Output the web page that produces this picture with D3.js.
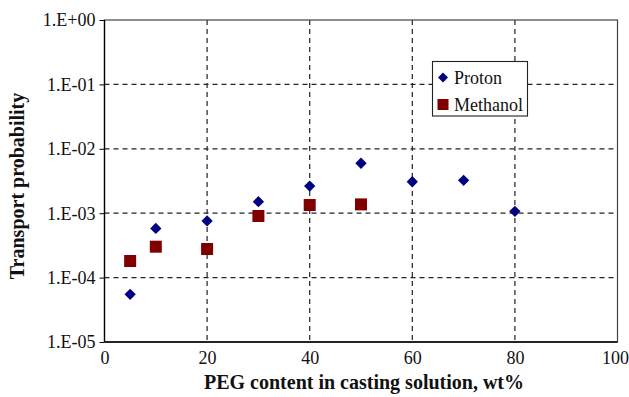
<!DOCTYPE html>
<html><head><meta charset="utf-8">
<script src="https://cdn.jsdelivr.net/npm/d3@7"></script>
<style>body{margin:0;background:#fff}svg{display:block}</style>
</head><body>
<svg id="c" width="629" height="397"></svg>
<script>
const protonX = [5,10,20,30,40,50,60,70,80];
const protonY = [5.5e-5,5.8e-4,7.6e-4,1.51e-3,2.64e-3,5.96e-3,3.08e-3,3.24e-3,1.07e-3];
const methanolX = [5,10,20,30,40,50];
const methanolY = [1.81e-4,3.02e-4,2.78e-4,9.05e-4,1.34e-3,1.37e-3];
const xTicks = [0,20,40,60,80,100];
const yTicks = [1e-5,1e-4,1e-3,1e-2,1e-1,1];
const yTickLabels = ["1.E-05","1.E-04","1.E-03","1.E-02","1.E-01","1.E+00"];

const svg = d3.select("#c");
const F = "Liberation Serif";
const L=104.5,R=617.5,T=20,B=342;
const x = d3.scaleLinear().domain([0,100]).range([L,R]);
const y = d3.scaleLog().domain([1e-5,1]).range([B,T]);

// grid
svg.append("g").selectAll("line").data(xTicks.slice(1,-1)).join("line")
  .attr("x1",d=>x(d)).attr("x2",d=>x(d)).attr("y1",T).attr("y2",B)
  .attr("stroke","#222").attr("stroke-width",1.2).attr("stroke-dasharray","5,4");
svg.append("g").selectAll("line").data(yTicks.slice(1,-1)).join("line")
  .attr("y1",d=>y(d)).attr("y2",d=>y(d)).attr("x1",L).attr("x2",R)
  .attr("stroke","#222").attr("stroke-width",1.2).attr("stroke-dasharray","5,4");

// frame
svg.append("rect").attr("x",L).attr("y",T).attr("width",R-L).attr("height",B-T)
  .attr("fill","none").attr("stroke","#444").attr("stroke-width",1.2);
svg.append("line").attr("x1",L).attr("x2",L).attr("y1",T).attr("y2",B).attr("stroke","#000").attr("stroke-width",1.3);
svg.append("line").attr("x1",L).attr("x2",R).attr("y1",B).attr("y2",B).attr("stroke","#000").attr("stroke-width",1.3);

// axes
const yAxis = d3.axisLeft(y).tickValues(yTicks).tickSize(5).tickFormat((d,i)=>yTickLabels[i]);
const ga = svg.append("g").attr("transform",`translate(${L},0)`).call(yAxis);
ga.attr("font-family",F);
ga.select(".domain").remove();
ga.selectAll("text").attr("font-family",F).attr("font-size",18).attr("fill","#111").attr("x",-9).attr("dy","0.33em");
ga.selectAll("line").attr("stroke","#000");

const xAxis = d3.axisBottom(x).tickValues(xTicks).tickSize(0).tickFormat(d3.format("d"));
const gx = svg.append("g").attr("transform",`translate(0,${B})`).call(xAxis);
gx.attr("font-family",F);
gx.select(".domain").remove();
gx.selectAll("text").attr("font-family",F).attr("font-size",18).attr("fill","#111").attr("y",9).attr("dy","0.71em")
  .attr("text-anchor",d=>d===100?"end":"middle").attr("x",d=>d===100?11:0);

// titles
svg.append("text").attr("x",(L+R)/2+3).attr("y",389).attr("text-anchor","middle")
  .attr("font-family",F).attr("font-weight","bold").attr("font-size",20).attr("fill","#111")
  .text("PEG content in casting solution, wt%");
svg.append("text").attr("transform",`translate(24,${(T+B)/2+5}) rotate(-90)`).attr("text-anchor","middle")
  .attr("font-family",F).attr("font-weight","bold").attr("font-size",20).attr("fill","#111")
  .text("Transport probability");

// points
svg.append("g").selectAll("path").data(protonX.map((d,i)=>[d,protonY[i]])).join("path")
  .attr("d", d3.symbol().type(d3.symbolSquare).size(64))
  .attr("transform",d=>`translate(${x(d[0])},${y(d[1])}) rotate(45)`)
  .attr("fill","#000080");
svg.append("g").selectAll("rect").data(methanolX.map((d,i)=>[d,methanolY[i]])).join("rect")
  .attr("x",d=>x(d[0])-6).attr("y",d=>y(d[1])-6).attr("width",12).attr("height",12)
  .attr("fill","#800000");

// legend
const lg = svg.append("g");
lg.append("rect").attr("x",432.5).attr("y",61.5).attr("width",95).attr("height",54.5)
  .attr("fill","#fff").attr("stroke","#222").attr("stroke-width",1.1);
lg.append("path").attr("d",d3.symbol().type(d3.symbolSquare).size(50)).attr("transform","translate(443,77.5) rotate(45)").attr("fill","#000080");
lg.append("rect").attr("x",437.5).attr("y",99).attr("width",11).attr("height",11).attr("fill","#800000");
lg.append("text").attr("x",454).attr("y",77.5).attr("dy","0.35em").attr("font-family",F).attr("font-size",18).attr("fill","#111").text("Proton");
lg.append("text").attr("x",454).attr("y",104.5).attr("dy","0.35em").attr("font-family",F).attr("font-size",18).attr("fill","#111").text("Methanol");
</script></body></html>
